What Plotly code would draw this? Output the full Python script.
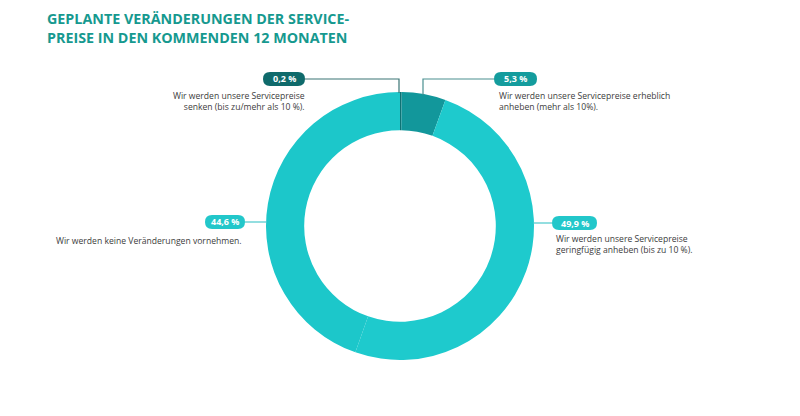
import plotly.graph_objects as go

# ---- data ----
categories = [
    "Wir werden unsere Servicepreise senken (bis zu/mehr als 10 %).",
    "Wir werden unsere Servicepreise erheblich anheben (mehr als 10%).",
    "Wir werden unsere Servicepreise geringfügig anheben (bis zu 10 %).",
    "Wir werden keine Veränderungen vornehmen.",
]
values = [0.2, 5.3, 49.9, 44.6]
value_labels = ["0,2 %", "5,3 %", "49,9 %", "44,6 %"]
label_lines = [
    "Wir werden unsere Servicepreise<br>senken (bis zu/mehr als 10 %).",
    "Wir werden unsere Servicepreise erheblich<br>anheben (mehr als 10%).",
    "Wir werden unsere Servicepreise<br>geringfügig anheben (bis zu 10 %).",
    "Wir werden keine Veränderungen vornehmen.",
]
title_text = "GEPLANTE VERÄNDERUNGEN DER SERVICE-<br>PREISE IN DEN KOMMENDEN 12 MONATEN"

# ---- style ----
W, H = 800, 416
OFF = 8  # page body margin offset
slice_colors = ["#0e7274", "#12979b", "#1ecacd", "#1cc7ca"]
pill_colors = ["#0f6a6b", "#149c9d", "#22c7ca", "#22c7ca"]
line_colors = ["#3a7474", "#4a8f90", "#4cc9cb", "#4cc9cb"]
text_color = "#3c3c3c"
FONT = "Open Sans"

cx, cy, R = 400, 226, 134


def px(x):
    return (x - OFF) / W


def py(y):
    return 1 - (y - OFF) / H


fig = go.Figure(go.Pie(
    labels=categories,
    values=values,
    sort=False,
    direction="clockwise",
    rotation=0,
    hole=0.715,
    marker=dict(colors=slice_colors, line=dict(width=0)),
    textinfo="none",
    hoverinfo="label+percent",
    showlegend=False,
    domain=dict(x=[px(cx - R), px(cx + R)], y=[py(cy + R), py(cy - R)]),
))

# label layout: pill box (x0,y0,x1,y1), leader polyline, text anchor
layout_specs = [
    dict(pill=(263, 72, 305, 86), line=[(305, 79), (399, 79), (399, 93)],
         tx=307, ty=101, xanchor="right", align="right"),
    dict(pill=(494, 72, 537, 86), line=[(494, 79), (423, 79), (423, 95)],
         tx=497, ty=102, xanchor="left", align="left"),
    dict(pill=(552, 216, 597, 230), line=[(533, 223), (552, 223)],
         tx=554, ty=244, xanchor="left", align="left"),
    dict(pill=(205, 215, 245, 229), line=[(245, 222), (267, 222)],
         tx=244, ty=241, xanchor="right", align="right"),
]


def rounded_rect(x0, y0, x1, y1):
    r = (y1 - y0) / 2
    return (f"M {px(x0 + r)} {py(y0)} L {px(x1 - r)} {py(y0)} "
            f"Q {px(x1)} {py(y0)} {px(x1)} {py(y0 + r)} "
            f"Q {px(x1)} {py(y1)} {px(x1 - r)} {py(y1)} "
            f"L {px(x0 + r)} {py(y1)} "
            f"Q {px(x0)} {py(y1)} {px(x0)} {py(y1 - r)} "
            f"Q {px(x0)} {py(y0)} {px(x0 + r)} {py(y0)} Z")


shapes = []
annotations = []
for i, spec in enumerate(layout_specs):
    pts = spec["line"]
    d = "M " + " L ".join(f"{px(x)} {py(y)}" for x, y in pts)
    shapes.append(dict(type="path", xref="paper", yref="paper", path=d,
                       line=dict(color=line_colors[i], width=1.2)))
    x0, y0, x1, y1 = spec["pill"]
    shapes.append(dict(type="path", xref="paper", yref="paper",
                       path=rounded_rect(x0, y0, x1, y1),
                       fillcolor=pill_colors[i], line=dict(width=0)))
    annotations.append(dict(
        x=px((x0 + x1) / 2), y=py((y0 + y1) / 2), xref="paper", yref="paper",
        text=f"<b>{value_labels[i]}</b>", showarrow=False,
        font=dict(family=FONT, size=9, color="white"),
        xanchor="center", yanchor="middle"))
    annotations.append(dict(
        x=px(spec["tx"]), y=py(spec["ty"]), xref="paper", yref="paper",
        text=label_lines[i], showarrow=False, align=spec["align"],
        font=dict(family=FONT, size=8.6, color=text_color),
        xanchor=spec["xanchor"], yanchor="middle"))

annotations.append(dict(
    x=px(46), y=1.0, xref="paper", yref="paper",
    text=f"<b>{title_text}</b>", showarrow=False, align="left",
    font=dict(family=FONT, size=14.3, color="#16998f"),
    borderpad=0, xanchor="left", yanchor="top"))

fig.update_layout(
    width=W, height=H,
    margin=dict(l=0, r=0, t=0, b=0),
    paper_bgcolor="white", plot_bgcolor="white",
    shapes=shapes, annotations=annotations,
)

fig.write_html("out.html")
